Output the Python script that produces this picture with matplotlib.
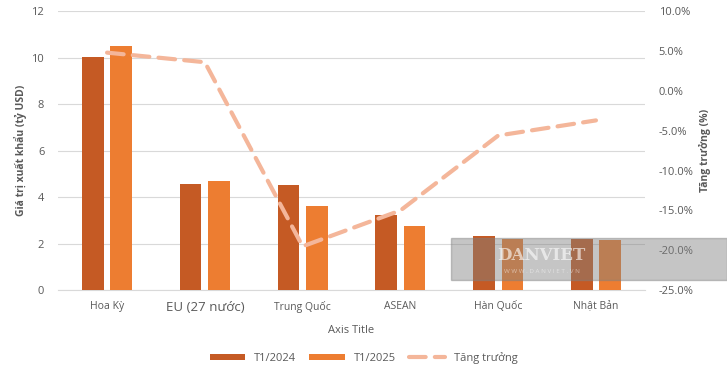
# Export value by market, Jan 2024 vs Jan 2025, with growth line
import matplotlib.pyplot as plt
import numpy as np

plt.rcParams['font.family'] = ['Open Sans', 'DejaVu Sans']

markets = ['Hoa Kỳ', 'EU (27 nước)', 'Trung Quốc', 'ASEAN', 'Hàn Quốc', 'Nhật Bản']
t1_2024 = [10.02, 4.56, 4.52, 3.23, 2.32, 2.20]
t1_2025 = [10.50, 4.69, 3.61, 2.75, 2.20, 2.15]
growth = [4.8, 3.6, -19.5, -15.0, -5.6, -3.7]

c24 = '#C55A24'
c25 = '#ED7D31'
cline = '#F4B69A'
grey = '#595959'

fig = plt.figure(figsize=(7.27, 3.73), dpi=100)
ax = fig.add_axes([0.08, 0.222, 0.807, 0.748])
ax2 = ax.twinx()

x = np.arange(len(markets))
w = 0.22
ax.bar(x - 0.145, t1_2024, w, color=c24, label='T1/2024', zorder=3)
ax.bar(x + 0.145, t1_2025, w, color=c25, label='T1/2025', zorder=3)
ln, = ax2.plot(x, growth, color=cline, lw=3, dashes=(4, 2.2), label='Tăng trưởng',
               dash_capstyle='round', zorder=4)

ax.set_xlim(-0.5, len(markets) - 0.5)
ax.set_ylim(0, 12)
ax.set_yticks(range(0, 13, 2))
ax.grid(axis='y', color='#D9D9D9', lw=0.8, zorder=0)
ax.set_xticks(x)
ax.set_xticklabels(markets)
for lab in ax.get_xticklabels():
    lab.set_fontsize(9.5 if lab.get_text().startswith('EU') else 7.5)
ax.tick_params(axis='x', length=0, colors=grey, pad=8)
ax.tick_params(axis='y', length=0, colors=grey, labelsize=8, pad=10)

ax2.set_ylim(-25, 10)
ax2.set_yticks(range(-25, 11, 5))
ax2.set_yticklabels([f'{v:.1f}%' for v in range(-25, 11, 5)])
ax2.tick_params(axis='y', length=0, colors=grey, labelsize=8, pad=10)

for a in (ax, ax2):
    for s in a.spines.values():
        s.set_visible(False)
ax.spines['bottom'].set_visible(True)
ax.spines['bottom'].set_color('#D9D9D9')

ax.set_ylabel('Giá trị xuất khẩu (tỷ USD)', fontsize=7.5, fontweight='bold', color=grey, labelpad=3)
ax2.set_ylabel('Tăng trưởng (%)', fontsize=7.5, fontweight='bold', color=grey, rotation=90, labelpad=4)
ax.set_xlabel('Axis Title', fontsize=8, color=grey, labelpad=8)

h1, l1 = ax.get_legend_handles_labels()
fig.legend(h1 + [ln], l1 + ['Tăng trưởng'], loc='center', bbox_to_anchor=(0.5, 0.04),
           ncol=3, frameon=False, fontsize=8, labelcolor=grey, handlelength=3.2,
           handleheight=0.5, columnspacing=1.2)

# watermark band
fig.patches.append(plt.Rectangle((0.62, 0.25), 0.38, 0.112, transform=fig.transFigure,
                                 color='#808080', alpha=0.45, zorder=10))
fig.text(0.745, 0.315, 'DANVIET', fontsize=12, color='white', alpha=0.6,
         ha='center', va='center', family='DejaVu Serif', fontweight='bold', zorder=11)
fig.text(0.745, 0.272, 'W W W . D A N V I E T . V N', fontsize=4.5, color='white', alpha=0.5,
         ha='center', va='center', zorder=11)

fig.savefig('out.png', dpi=100)
